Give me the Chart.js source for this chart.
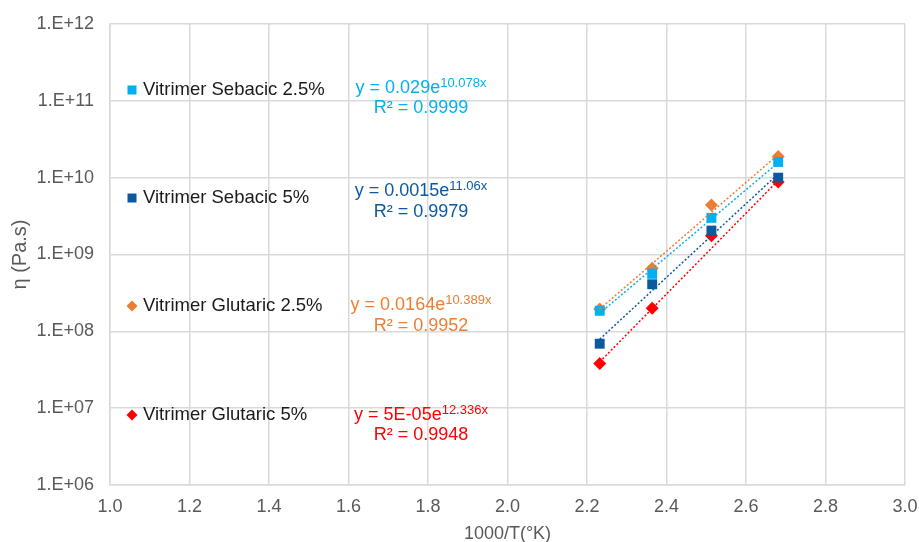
<!DOCTYPE html>
<html>
<head>
<meta charset="utf-8">
<script src="https://cdn.jsdelivr.net/npm/chart.js@4.4.1/dist/chart.umd.min.js"></script>
<style>
  html, body { margin: 0; padding: 0; background: #fff; }
  #wrap { width: 919px; height: 542px; }
</style>
</head>
<body>
<div id="wrap"><canvas id="viscChart" width="919" height="542"></canvas></div>
<script>
// 1000/T values (x)
const invTemp = [2.232, 2.364, 2.513, 2.681];

// viscosity per series (Pa.s)
const sebacic25 = [1.85e8, 5.6e8, 3.0e9, 1.6e10];
const sebacic5 = [6.9e7, 4.1e8, 2.05e9, 1.0e10];
const glutaric25 = [1.95e8, 6.6e8, 4.4e9, 1.88e10];
const glutaric5 = [3.8e7, 2.0e8, 1.75e9, 8.8e9];

// exponential trendline end values at first / last x
const trendSebacic25 = [1.72e8, 1.57e10];
const trendSebacic5 = [7.9e7, 1.12e10];
const trendGlutaric25 = [1.95e8, 2.0e10];
const trendGlutaric5 = [4.0e7, 9.2e9];

const seriesNames = [
  "Vitrimer Sebacic 2.5%",
  "Vitrimer Sebacic 5%",
  "Vitrimer Glutaric 2.5%",
  "Vitrimer Glutaric 5%",
];
const eqBase = ["y = 0.029e", "y = 0.0015e", "y = 0.0164e", "y = 5E-05e"];
const eqExp = ["10.078x", "11.06x", "10.389x", "12.336x"];
const eqR2 = ["R² = 0.9999", "R² = 0.9979", "R² = 0.9952", "R² = 0.9948"];

const yTickPowers = [6, 7, 8, 9, 10, 11, 12];

const colors = ["#00B0F0", "#0B5AA0", "#ED7D31", "#FF0000"];
const styles = ["rect", "rect", "rectRot", "rectRot"];
const FONT = "'Liberation Sans', Arial, sans-serif";

const values = [sebacic25, sebacic5, glutaric25, glutaric5];
const trends = [trendSebacic25, trendSebacic5, trendGlutaric25, trendGlutaric5];

const datasets = [];
values.forEach((vals, i) => {
  datasets.push({
    label: seriesNames[i],
    data: vals.map((v, k) => ({ x: invTemp[k], y: v })),
    showLine: false,
    pointStyle: styles[i],
    pointRadius: styles[i] === "rect" ? 7 : 6.5,
    pointBackgroundColor: colors[i],
    pointBorderColor: colors[i],
    pointBorderWidth: 0,
    order: 2,
  });
});
trends.forEach((t, i) => {
  datasets.push({
    label: seriesNames[i] + " trend",
    data: [
      { x: invTemp[0], y: t[0] },
      { x: invTemp[invTemp.length - 1], y: t[1] },
    ],
    showLine: true,
    borderColor: colors[i],
    borderWidth: 1.5,
    borderDash: [2, 2],
    pointRadius: 0,
    order: 1,
  });
});

// legend + trendline equations drawn inside the plot
const legendY = [90, 198, 306, 415];
const eqY = [[88, 108], [191, 212], [305, 326], [415, 435]];
const eqCenterX = 421;

const annotations = {
  id: "annotations",
  afterDatasetsDraw(chart) {
    const ctx = chart.ctx;
    ctx.save();
    ctx.textBaseline = "middle";
    for (let i = 0; i < 4; i++) {
      // marker
      ctx.fillStyle = colors[i];
      const mx = 132, my = legendY[i];
      if (styles[i] === "rect") {
        ctx.fillRect(mx - 4.5, my - 4.5, 9, 9);
      } else {
        ctx.beginPath();
        ctx.moveTo(mx, my - 5.5);
        ctx.lineTo(mx + 5.5, my);
        ctx.lineTo(mx, my + 5.5);
        ctx.lineTo(mx - 5.5, my);
        ctx.closePath();
        ctx.fill();
      }
      ctx.fillStyle = "#1a1a1a";
      ctx.font = "18.5px " + FONT;
      ctx.textAlign = "left";
      ctx.fillText(seriesNames[i], 143, legendY[i]);

      // equation
      ctx.fillStyle = colors[i];
      ctx.font = "18px " + FONT;
      const wBase = ctx.measureText(eqBase[i]).width;
      ctx.font = "13px " + FONT;
      const wExp = ctx.measureText(eqExp[i]).width;
      const x0 = eqCenterX - (wBase + wExp) / 2;
      ctx.font = "18px " + FONT;
      ctx.fillText(eqBase[i], x0, eqY[i][0]);
      ctx.font = "13px " + FONT;
      ctx.fillText(eqExp[i], x0 + wBase, eqY[i][0] - 4.5);
      ctx.font = "18px " + FONT;
      ctx.textAlign = "center";
      ctx.fillText(eqR2[i], eqCenterX, eqY[i][1]);
    }
    ctx.restore();
  },
};

new Chart(document.getElementById("viscChart"), {
  type: "scatter",
  data: { datasets: datasets },
  options: {
    responsive: false,
    animation: false,
    layout: { padding: { top: 24, right: 0, left: 0, bottom: 0 } },
    plugins: {
      legend: { display: false },
      tooltip: { enabled: false },
    },
    scales: {
      x: {
        type: "linear",
        min: 1.0,
        max: 3.0,
        afterFit: (s) => {
          s.height = 57;
          s.paddingRight = 14;
        },
        ticks: {
          stepSize: 0.2,
          padding: 11,
          color: "#595959",
          font: { family: FONT, size: 18 },
          callback: (v) => v.toFixed(1),
        },
        grid: { color: "#D9D9D9", lineWidth: 1.5, drawTicks: false },
        border: { color: "#D9D9D9", width: 1.5 },
        title: {
          display: true,
          text: "1000/T(°K)",
          color: "#595959",
          font: { family: FONT, size: 18 },
          padding: { top: 0, bottom: -3 },
        },
      },
      y: {
        type: "logarithmic",
        min: 1e6,
        max: 1e12,
        afterFit: (s) => {
          s.width = 110;
          s.paddingTop = 0;
          s.paddingBottom = 0;
        },
        afterBuildTicks: (s) => {
          s.ticks = yTickPowers.map((p) => ({ value: Math.pow(10, p) }));
        },
        ticks: {
          padding: 16,
          color: "#595959",
          font: { family: FONT, size: 18 },
          callback: (v) => "1.E+" + String(Math.round(Math.log10(v))).padStart(2, "0"),
        },
        grid: { color: "#D9D9D9", lineWidth: 1.5, drawTicks: false },
        border: { color: "#D9D9D9", width: 1.5 },
        title: {
          display: true,
          text: "η (Pa.s)",
          color: "#595959",
          font: { family: FONT, size: 20 },
          padding: { top: 8, bottom: 0 },
        },
      },
    },
  },
  plugins: [annotations],
});
</script>
</body>
</html>
